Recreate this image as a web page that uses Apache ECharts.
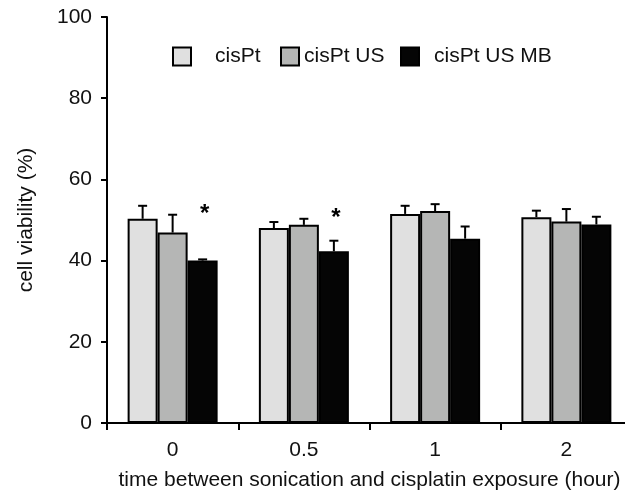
<!DOCTYPE html>
<html>
<head>
<meta charset="utf-8">
<script src="https://cdn.jsdelivr.net/npm/echarts@6/dist/echarts.min.js"></script>
<style>
  html, body { margin: 0; padding: 0; background: #fff; }
  #main { width: 625px; height: 492px; }
</style>
</head>
<body>
<div id="main"></div>
<script>
// time between sonication and cisplatin exposure (hour)
var categories = ['0', '0.5', '1', '2'];
var seriesNames = ['cisPt', 'cisPt US', 'cisPt US MB'];

// mean cell viability (%)
var cisPt = [50.3, 48.0, 51.5, 50.7];
var cisPtUS = [46.9, 48.8, 52.2, 49.6];
var cisPtUSMB = [40.0, 42.3, 45.4, 48.9];

// error (upper bar only)
var cisPtErr = [3.2, 1.5, 2.0, 1.6];
var cisPtUSErr = [4.4, 1.5, 1.7, 3.1];
var cisPtUSMBErr = [0.3, 2.6, 3.0, 1.9];

// significance marks: [category index, y value]
var sigMarks = [[0, 51.3], [1, 50.5]];

var font = 'Liberation Sans, Arial, sans-serif';
var colors = ['#e0e0e0', '#b5b6b5', '#050505'];
var barW = 30;

var means = [cisPt, cisPtUS, cisPtUSMB];
var errs = [cisPtErr, cisPtUSErr, cisPtUSMBErr];
var errData = [];
means.forEach(function (arr, s) {
  arr.forEach(function (v, i) {
    errData.push([i, v, errs[s][i], s]);
  });
});

var myChart = echarts.init(document.getElementById('main'));

function legendFor(name, left, pad) {
  return {
    data: [name],
    left: left,
    top: 46,
    padding: 0,
    itemWidth: 18,
    itemHeight: 18,
    icon: 'rect',
    selectedMode: false,
    textStyle: {
      color: '#111',
      fontSize: 21,
      fontFamily: font,
      padding: [0, 0, 0, pad]
    }
  };
}

myChart.setOption({
  animation: false,
  textStyle: { fontFamily: font },
  legend: [
    legendFor('cisPt', 172, 19),
    legendFor('cisPt US', 280, 0),
    legendFor('cisPt US MB', 400, 10)
  ],
  // plot runs past the right edge, like the cropped original
  grid: {
    left: 107,
    width: 525,
    top: 17,
    bottom: 69,
    outerBoundsMode: 'none',
    containLabel: false
  },
  xAxis: {
    type: 'category',
    data: categories,
    name: 'time between sonication and cisplatin exposure (hour)',
    nameLocation: 'middle',
    nameGap: 47,
    nameTextStyle: { color: '#111', fontSize: 21, fontFamily: font },
    axisLine: { lineStyle: { color: '#000', width: 2 } },
    axisTick: { show: true, length: 7, lineStyle: { color: '#000', width: 2 } },
    axisLabel: { color: '#111', fontSize: 21, fontFamily: font, margin: 17 },
    splitLine: { show: false }
  },
  yAxis: {
    type: 'value',
    min: 0,
    max: 100,
    interval: 20,
    name: 'cell viability (%)',
    nameLocation: 'middle',
    nameGap: 70,
    nameTextStyle: { color: '#111', fontSize: 21, fontFamily: font },
    axisLine: { show: true, lineStyle: { color: '#000', width: 2 } },
    axisTick: { show: true, length: 6, lineStyle: { color: '#000', width: 2 } },
    axisLabel: { color: '#111', fontSize: 21, fontFamily: font, margin: 15 },
    splitLine: { show: false }
  },
  series: [
    {
      name: seriesNames[0],
      type: 'bar',
      data: cisPt,
      barWidth: barW,
      barGap: '0%',
      itemStyle: { color: colors[0], borderColor: '#000', borderWidth: 2 }
    },
    {
      name: seriesNames[1],
      type: 'bar',
      data: cisPtUS,
      barWidth: barW,
      barGap: '0%',
      itemStyle: { color: colors[1], borderColor: '#000', borderWidth: 2 }
    },
    {
      name: seriesNames[2],
      type: 'bar',
      data: cisPtUSMB,
      barWidth: barW,
      barGap: '0%',
      itemStyle: { color: colors[2], borderColor: '#000', borderWidth: 2 }
    },
    {
      // upward error bars
      type: 'custom',
      data: errData,
      z: 5,
      renderItem: function (params, api) {
        var s = api.value(3);
        var base = api.coord([api.value(0), api.value(1)]);
        var top = api.coord([api.value(0), api.value(1) + api.value(2)]);
        var x = base[0] + (s - 1) * barW;
        var style = { stroke: '#000', lineWidth: 2 };
        return {
          type: 'group',
          children: [
            { type: 'line', shape: { x1: x, y1: base[1], x2: x, y2: top[1] }, style: style },
            { type: 'line', shape: { x1: x - 4.5, y1: top[1], x2: x + 4.5, y2: top[1] }, style: style }
          ]
        };
      }
    },
    {
      // asterisks over cisPt US MB
      type: 'custom',
      data: sigMarks,
      z: 6,
      renderItem: function (params, api) {
        var p = api.coord([api.value(0), api.value(1)]);
        return {
          type: 'text',
          style: {
            x: p[0] + barW + 2,
            y: p[1],
            text: '*',
            fill: '#000',
            font: 'bold 24px ' + font,
            textAlign: 'center',
            textVerticalAlign: 'middle'
          }
        };
      }
    }
  ]
});
</script>
</body>
</html>
